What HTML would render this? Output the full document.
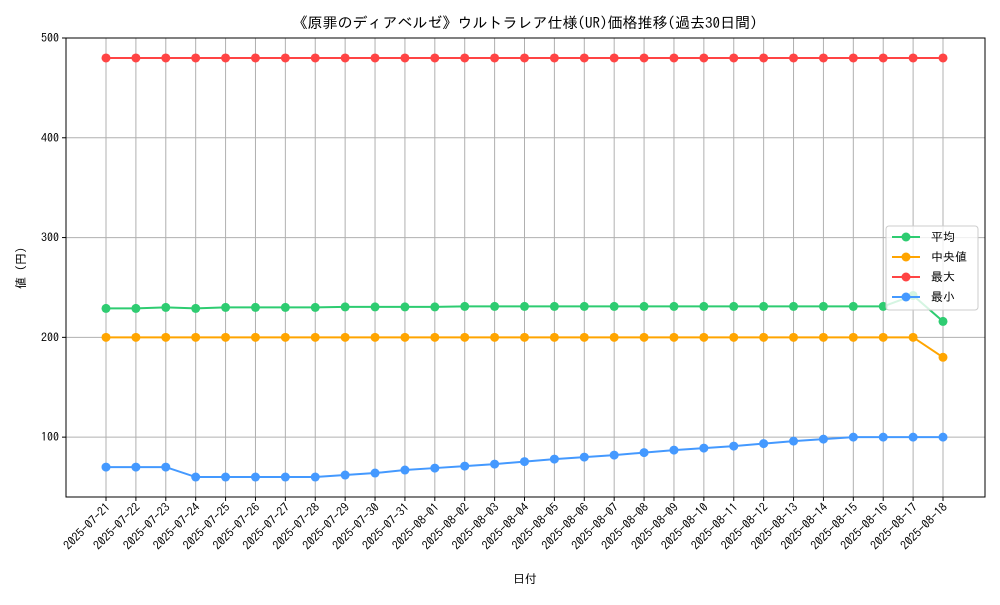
<!DOCTYPE html>
<html><head><meta charset="utf-8"><style>
body{margin:0;background:#fff}
svg text{font-family:"IPAGothic","Noto Sans CJK JP",sans-serif;fill:#000}
</style></head><body>
<svg id="chart" width="1000" height="600" xmlns="http://www.w3.org/2000/svg">
<rect width="1000" height="600" fill="#fff"/>
<text x="525" y="28" font-size="15" text-anchor="middle">《原罪のディアベルゼ》ウルトラレア仕様(UR)価格推移(過去30日間)</text>
<g id="grid"></g><g id="axes"></g><g id="series"></g>
<text x="525" y="583" font-size="12" text-anchor="middle">日付</text>
<text transform="translate(25,268) rotate(-90)" font-size="12" text-anchor="middle">値 (円)</text>
<g id="legend"></g>
</svg>
<script>
const dates=["2025-07-21","2025-07-22","2025-07-23","2025-07-24","2025-07-25","2025-07-26","2025-07-27","2025-07-28","2025-07-29","2025-07-30","2025-07-31","2025-08-01","2025-08-02","2025-08-03","2025-08-04","2025-08-05","2025-08-06","2025-08-07","2025-08-08","2025-08-09","2025-08-10","2025-08-11","2025-08-12","2025-08-13","2025-08-14","2025-08-15","2025-08-16","2025-08-17","2025-08-18"];
const avgVals=[229,229,230,229,230,230,230,230,230.5,230.5,230.5,230.5,231,231,231,231,231,231,231,231,231,231,231,231,231,231,231,242,216];
const medVals=[200,200,200,200,200,200,200,200,200,200,200,200,200,200,200,200,200,200,200,200,200,200,200,200,200,200,200,200,180];
const maxVals=[480,480,480,480,480,480,480,480,480,480,480,480,480,480,480,480,480,480,480,480,480,480,480,480,480,480,480,480,480];
const minVals=[70,70,70,60,60,60,60,60,62,64,67,69,71,73,75.5,78,80,82,84.5,87,89,91,93.5,96,98,100,100,100,100];
const yTicks=[100,200,300,400,500];
const names=["平均","中央値","最大","最小"];
const colors=["#2ecc71","#ffa500","#ff4444","#4499ff"];
const NS="http://www.w3.org/2000/svg";
const L=66,R=985,T=38,B=497,yMin=40,yMax=500;
const x=i=>106+i*(943-106)/(dates.length-1);
const y=v=>B-(v-yMin)/(yMax-yMin)*(B-T);
function mk(p,tag,a){const e=document.createElementNS(NS,tag);for(const k in a)e.setAttribute(k,a[k]);p.appendChild(e);return e;}
const grid=document.getElementById('grid'),axes=document.getElementById('axes'),ser=document.getElementById('series');
dates.forEach((d,i)=>{
 const g=mk(grid,'line',{x1:x(i),x2:x(i),y1:T,y2:B,stroke:'#b0b0b0','stroke-width':1});
 
 mk(axes,'line',{x1:x(i),x2:x(i),y1:B,y2:B+4,stroke:'#000'});
 const t=mk(axes,'text',{transform:`translate(${x(i)+5},${B+11}) rotate(-45)`,'font-size':12,'text-anchor':'end'});
 t.textContent=d;
});
yTicks.forEach(v=>{
 const g=mk(grid,'line',{x1:L,x2:R,y1:y(v),y2:y(v),stroke:'#b0b0b0','stroke-width':1});
 
 mk(axes,'line',{x1:L-4,x2:L,y1:y(v),y2:y(v),stroke:'#000'});
 const t=mk(axes,'text',{x:L-7,y:y(v)+4,'font-size':12,'text-anchor':'end'});
 t.textContent=v;
});
const fr=mk(axes,'rect',{x:L,y:T,width:R-L,height:B-T,fill:'none',stroke:'#000','stroke-width':1});

[avgVals,medVals,maxVals,minVals].forEach((vals,s)=>{
 const g=mk(ser,'g',{});
 
 mk(g,'polyline',{points:vals.map((v,i)=>x(i)+','+y(v)).join(' '),fill:'none',stroke:colors[s],'stroke-width':2});
 vals.forEach((v,i)=>{const c=mk(g,'circle',{cx:x(i),cy:y(v),r:4.5,fill:colors[s]});
  });
});
const lg=document.getElementById('legend');
mk(lg,'rect',{x:886,y:226,width:92,height:84,rx:3,fill:'rgba(255,255,255,0.8)',stroke:'#ccc'});
names.forEach((n,s)=>{
 const yy=237+s*20;
 const e=mk(lg,'g',{});
 
 mk(e,'line',{x1:892,x2:920,y1:yy,y2:yy,stroke:colors[s],'stroke-width':2});
 mk(e,'circle',{cx:906,cy:yy,r:4.5,fill:colors[s]});
 const t=mk(e,'text',{x:931,y:yy+4,'font-size':12});t.textContent=n;
});
</script>
</body></html>
